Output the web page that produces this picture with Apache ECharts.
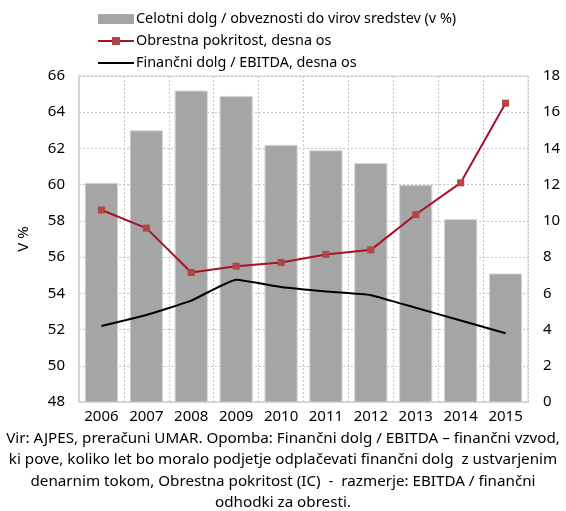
<!DOCTYPE html>
<html>
<head>
<meta charset="utf-8">
<script src="https://cdn.jsdelivr.net/npm/echarts@6/dist/echarts.min.js"></script>
<style>
  html, body { margin: 0; padding: 0; background: #fff; }
  #chart { width: 566px; height: 511px; }
</style>
</head>
<body>
<div id="chart"></div>
<script>
// Years on the category axis
var years = ['2006', '2007', '2008', '2009', '2010', '2011', '2012', '2013', '2014', '2015'];
// Total debt / liabilities to sources of funds (%), left axis
var totalDebt = [60.1, 63.0, 65.2, 64.9, 62.2, 61.9, 61.2, 60.0, 58.1, 55.1];
// Interest coverage, right axis
var interestCoverage = [10.6, 9.6, 7.15, 7.5, 7.7, 8.15, 8.4, 10.35, 12.1, 16.5];
// Financial debt / EBITDA, right axis
var debtToEbitda = [4.2, 4.8, 5.6, 6.75, 6.35, 6.1, 5.9, 5.2, 4.5, 3.8];

var seriesNames = [
  'Celotni dolg / obveznosti do virov sredstev (v %)',
  'Obrestna pokritost, desna os',
  'Finančni dolg / EBITDA, desna os'
];
var noteLines = [
  'Vir: AJPES, preračuni UMAR. Opomba: Finančni dolg / EBITDA – finančni vzvod,',
  'ki pove, koliko let bo moralo podjetje odplačevati finančni dolg  z ustvarjenim',
  'denarnim tokom, Obrestna pokritost (IC)  -  razmerje: EBITDA / finančni',
  'odhodki za obresti.'
];

var FONT = 'Noto Sans';
var chart = echarts.init(document.getElementById('chart'), null, { renderer: 'canvas' });

var gridLine = { show: true, lineStyle: { color: '#c4c4c4', type: [2, 2], width: 1 } };

chart.setOption({
  animation: false,
  textStyle: { fontFamily: FONT, color: '#000' },
  legend: {
    orient: 'vertical',
    left: 92,
    top: 5,
    itemGap: 4,
    itemWidth: 36,
    itemHeight: 10,
    textStyle: { fontFamily: FONT, fontSize: 14.4, lineHeight: 18, color: '#000', padding: [0, 0, 0, -3] },
    data: [
      { name: seriesNames[0], icon: 'rect', itemStyle: { color: '#a5a5a5', borderWidth: 0 } },
      { name: seriesNames[1] },
      // plain line key, no marker
      { name: seriesNames[2], icon: 'path://M0,0H36V2H0Z', itemStyle: { color: '#000', borderWidth: 0 } }
    ]
  },
  grid: { left: 79, right: 38, top: 76, bottom: 109, show: true, borderColor: '#d4d4d4', borderWidth: 1 },
  xAxis: {
    type: 'category',
    data: years,
    axisLine: { show: true, lineStyle: { color: '#d4d4d4', width: 2 } },
    axisTick: { show: false },
    splitLine: gridLine,
    axisLabel: { interval: 0, fontFamily: FONT, fontSize: 15, color: '#000', margin: 7 }
  },
  yAxis: [
    {
      type: 'value', min: 48, max: 66, interval: 2,
      name: 'V %', nameLocation: 'middle', nameGap: 48, nameRotate: 90,
      nameTextStyle: { fontFamily: FONT, fontSize: 15, color: '#000' },
      axisLine: { show: true, lineStyle: { color: '#d4d4d4', width: 2 } },
      axisTick: { show: false },
      splitLine: gridLine,
      axisLabel: { fontFamily: FONT, fontSize: 15, color: '#000', margin: 14 }
    },
    {
      type: 'value', min: 0, max: 18, interval: 2,
      axisLine: { show: false },
      axisTick: { show: false },
      splitLine: { show: false },
      axisLabel: { fontFamily: FONT, fontSize: 15, color: '#000', margin: 15 }
    }
  ],
  series: [
    {
      name: seriesNames[0],
      type: 'bar',
      data: totalDebt,
      barWidth: '74%',
      itemStyle: { color: '#a5a5a5', borderColor: '#d6d6d6', borderWidth: 1 },
      z: 1
    },
    {
      name: seriesNames[1],
      type: 'line',
      yAxisIndex: 1,
      data: interestCoverage,
      symbol: 'rect',
      symbolSize: 7,
      lineStyle: { color: '#a8112a', width: 2 },
      itemStyle: { color: '#b24545', borderWidth: 0 },
      z: 3
    },
    {
      name: seriesNames[2],
      type: 'line',
      yAxisIndex: 1,
      data: debtToEbitda,
      symbol: 'none',
      smooth: 0.12,
      lineStyle: { color: '#000', width: 2 },
      itemStyle: { color: '#000' },
      z: 2
    }
  ],
  graphic: noteLines.map(function (line, i) {
    return {
      type: 'text',
      left: 'center',
      top: 431 + i * 21.4,
      style: { text: line, font: '15.2px "' + FONT + '"', fill: '#000' }
    };
  })
});
</script>
</body>
</html>
